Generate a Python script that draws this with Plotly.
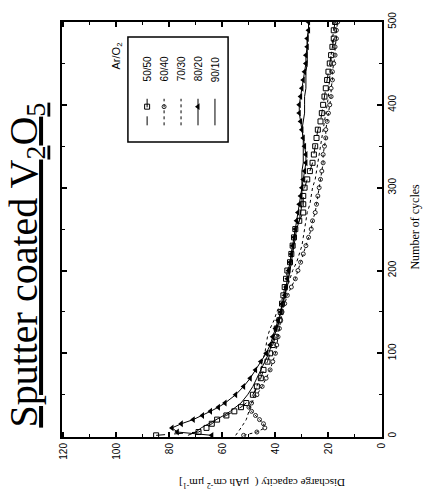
import plotly.graph_objects as go

# Cycle numbers at which discharge capacity was recorded
cycles = [1, 5, 10, 15, 20, 25, 30, 35, 40,
          50, 60, 70, 80, 90, 100, 110, 120, 130, 140, 150,
          160, 170, 180, 190, 200, 210, 220, 230, 240, 250,
          260, 270, 280, 290, 300, 310, 320, 330, 340, 350,
          360, 370, 380, 390, 400, 410, 420, 430, 440, 450,
          460, 470, 480, 490, 500]

# Discharge capacity (uAh cm^-2 um^-1) for each Ar/O2 sputtering ratio
cap_50_50 = [85, 69, 66, 64, 62, 58.5, 55.5, 53, 51,
             48.5, 47, 45.5, 44.5, 43, 42, 41, 40, 39.5, 38.5, 38,
             37.5, 37, 36.5, 36, 35.5, 34.5, 34, 33.5, 33, 32.5,
             31, 29.5, 29.5, 29.5, 29, 28, 27, 26, 25.5, 25,
             24.5, 24, 23, 22.5, 22, 21.5, 21, 20.5, 20, 19.5,
             19, 18.5, 18, 18, 17.5]
cap_60_40 = [52, 47, 44, 44.5, 46, 47.5, 49, 50, 49,
             47, 45, 43.5, 42, 41, 40, 39.5, 39, 38.5, 38, 37.5,
             36.5, 35.5, 34, 32.5, 31.5, 30.5, 29.5, 28.5, 27.5, 26.5,
             26, 25, 24.5, 24, 23.5, 23, 22.5, 22, 22, 21.5,
             21, 21, 20.5, 20, 19.5, 19, 19, 18.5, 18.5, 18,
             17.5, 17.5, 17, 17, 16.5]
cap_70_30 = [55, 54, 53, 52, 51, 50.5, 50, 49.5, 49,
             48, 47, 46, 45.5, 45, 44, 43.5, 43, 42, 40.5, 39.5,
             38, 37, 35.5, 34.5, 33.5, 32, 31, 30, 29.5, 29,
             28.5, 28, 27, 26.5, 26, 25, 24.5, 24, 23.5, 23,
             22.5, 22, 21.5, 21, 20.5, 20, 20, 19.5, 19.5, 19,
             19, 18.5, 18.5, 18, 18]
cap_80_20 = [64, 77, 79, 75.5, 71, 67.5, 64.5, 61.5, 59,
             55, 52, 49.5, 47.5, 45.5, 43.5, 42, 41, 40, 39, 38,
             37.5, 36.5, 36, 35.5, 35, 34.5, 34, 33.5, 33, 32.5,
             32, 31.5, 31, 30.5, 30, 29.5, 29, 28.5, 28.5, 29,
             29.5, 30, 30.5, 31, 31, 30.5, 30, 29.5, 29, 28.5,
             28.5, 28, 28, 27.5, 27.5]
cap_90_10 = [73, 70, 68, 65, 62, 59.5, 57, 55, 53,
             50.5, 48.5, 47, 45.5, 44, 42.5, 41.5, 40.5, 39.5, 38.5, 38,
             37, 36.5, 35.5, 35, 34.5, 34, 33.5, 33, 32.5, 32,
             31, 30.5, 30, 30, 30, 30, 30, 29.5, 29.5, 29.5,
             29.5, 30, 29.5, 29, 29, 29, 28.5, 28.5, 28.5, 28,
             28, 28, 28, 27.5, 27.5]

series_names = ["50/50", "60/40", "70/30", "80/20", "90/10"]
series_values = [cap_50_50, cap_60_40, cap_70_30, cap_80_20, cap_90_10]
styles = {
    "50/50": dict(mode="lines+markers", dash="dash",
                  marker=dict(symbol="square-open", size=5, color="black", line=dict(width=1))),
    "60/40": dict(mode="lines+markers", dash="dot",
                  marker=dict(symbol="circle-open", size=4, color="#222", line=dict(width=1))),
    "70/30": dict(mode="lines", dash="dot", marker=None),
    "80/20": dict(mode="lines+markers", dash="solid",
                  marker=dict(symbol="triangle-left", size=6, color="black")),
    "90/10": dict(mode="lines", dash="solid", marker=None),
}

INK = "black"
fig = go.Figure()

for name, vals in zip(series_names, series_values):
    st = styles[name]
    kw = dict(x=vals, y=cycles, mode=st["mode"], name=name, showlegend=False,
              line=dict(color=INK, width=1, dash=st["dash"]))
    if st["marker"] is not None:
        kw["marker"] = st["marker"]
    fig.add_trace(go.Scatter(**kw))

# Legend samples, drawn on an overlay axis spanning the plot area (0..1)
legend_cols = [0.266, 0.319, 0.372, 0.425, 0.478]
for name, cx in zip(series_names, legend_cols):
    st = styles[name]
    fig.add_trace(go.Scatter(x=[cx, cx], y=[0.751, 0.815], mode="lines",
                             line=dict(color=INK, width=1, dash=st["dash"]),
                             xaxis="x2", yaxis="y2", showlegend=False, hoverinfo="skip"))
    if st["marker"] is not None:
        fig.add_trace(go.Scatter(x=[cx], y=[0.796], mode="markers", marker=st["marker"],
                                 xaxis="x2", yaxis="y2", showlegend=False, hoverinfo="skip"))
    fig.add_annotation(x=cx, y=0.886, xref="paper", yref="paper", text=name,
                       textangle=-90, showarrow=False, xanchor="center", yanchor="middle",
                       font=dict(family="Liberation Sans", size=10, color=INK))

fig.add_annotation(x=0.172, y=0.917, xref="paper", yref="paper", text="Ar/O<sub>2</sub>",
                   textangle=-90, showarrow=False, xanchor="center", yanchor="middle",
                   font=dict(family="Liberation Sans", size=11, color=INK))

fig.add_shape(type="rect", xref="paper", yref="paper", x0=0.206, x1=0.519, y0=0.711, y1=0.964,
              line=dict(color=INK, width=1.5))

# Title and axis titles
fig.add_annotation(x=-0.113, y=0.415, xref="paper", yref="paper",
                   text="<u>Sputter coated V<sub>2</sub>O<sub>5</sub></u>",
                   textangle=-90, showarrow=False, xanchor="center", yanchor="middle",
                   font=dict(family="Liberation Serif", size=40, color=INK))
fig.add_annotation(x=1.103, y=0.507, xref="paper", yref="paper", text="Number of cycles",
                   textangle=-90, showarrow=False, xanchor="center", yanchor="middle",
                   font=dict(family="Liberation Serif", size=12, color=INK))
fig.add_annotation(x=0.625, y=-0.111, xref="paper", yref="paper",
                   text="Discharge capacity (  \u00b5Ah cm<sup>-2</sup> \u00b5m<sup>-1</sup>]",
                   textangle=180, showarrow=False, xanchor="center", yanchor="middle",
                   font=dict(family="Liberation Serif", size=11, color=INK))

tickfont = dict(family="Liberation Sans", size=10, color=INK)
fig.update_layout(
    width=426, height=497,
    margin=dict(l=62, r=44, t=15, b=60),
    paper_bgcolor="white", plot_bgcolor="white",
    xaxis=dict(range=[120.5, -0.2], tickvals=[0, 20, 40, 60, 80, 100, 120],
               ticks="inside", ticklen=5, tickwidth=1.5, tickcolor=INK, tickangle=-90,
               tickfont=tickfont, showline=True, linewidth=2, linecolor=INK, mirror="ticks",
               showgrid=False, zeroline=False,
               minor=dict(ticks="inside", ticklen=3, tickwidth=1, dtick=10, tickcolor=INK)),
    yaxis=dict(range=[-1, 500], side="right", tickvals=[0, 100, 200, 300, 400, 500],
               ticks="inside", ticklen=5, tickwidth=1.5, tickcolor=INK, tickangle=-90,
               tickfont=tickfont, showline=True, linewidth=2, linecolor=INK, mirror="ticks",
               showgrid=False, zeroline=False,
               minor=dict(ticks="inside", ticklen=3, tickwidth=1, dtick=50, tickcolor=INK)),
    xaxis2=dict(range=[0, 1], overlaying="x", visible=False),
    yaxis2=dict(range=[0, 1], overlaying="y", visible=False),
)

fig.write_html("out.html")
